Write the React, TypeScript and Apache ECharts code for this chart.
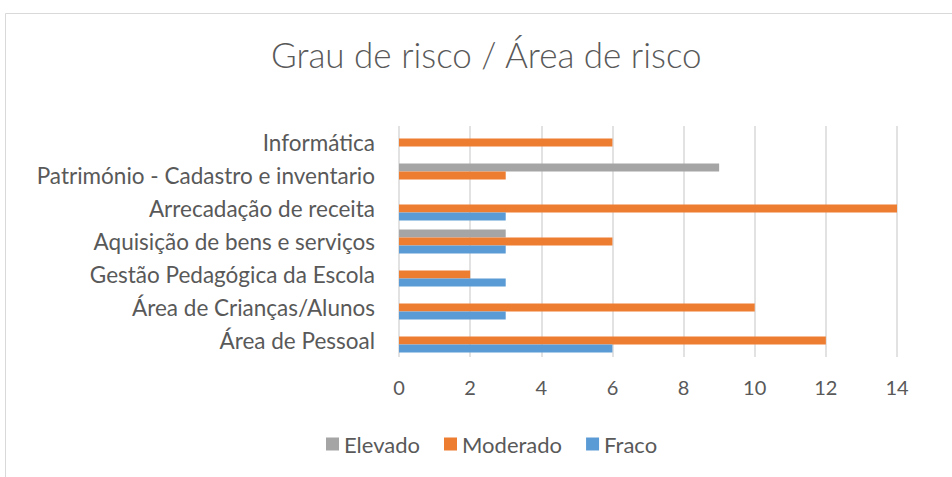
import React, { useEffect, useRef } from "react";
import * as echarts from "echarts";

const categories = [
  "Área de Pessoal",
  "Área de Crianças/Alunos",
  "Gestão Pedagógica da Escola",
  "Aquisição de bens e serviços",
  "Arrecadação de receita",
  "Património - Cadastro e inventario",
  "Informática",
];
const fraco = [6, 3, 3, 3, 3, 0, 0];
const moderado = [12, 10, 2, 6, 14, 3, 6];
const elevado = [0, 0, 0, 3, 0, 9, 0];
const legendOrder = ["Elevado", "Moderado", "Fraco"];
const titleText = "Grau de risco / Área de risco";

export default function App() {
  const ref = useRef<HTMLDivElement>(null);
  useEffect(() => {
    if (!ref.current) return;
    const chart = echarts.init(ref.current, null, { renderer: "svg" });
    const font = "Lato, sans-serif";
    const txt = "#595959";
    const common = { type: "bar", barGap: "0%", barCategoryGap: "28%" };
    chart.setOption({
      animation: false,
      backgroundColor: "#ffffff",
      title: {
        text: titleText,
        left: 266,
        top: 31,
        textStyle: { fontFamily: font, fontWeight: 300, fontSize: 35, color: txt },
      },
      graphic: [
        {
          type: "rect",
          shape: { x: 5.5, y: 13.5, width: 1000, height: 500 },
          style: { fill: "none", stroke: "#d9d9d9", lineWidth: 1 },
          silent: true,
        },
      ],
      legend: {
        data: legendOrder,
        bottom: 17,
        left: 321,
        itemWidth: 13,
        itemHeight: 13,
        itemGap: 24,
        icon: "rect",
        textStyle: { fontFamily: font, fontSize: 22, color: txt },
      },
      grid: { left: 399, right: 55, top: 126, bottom: 120 },
      xAxis: {
        type: "value",
        min: 0,
        max: 14,
        interval: 2,
        axisLine: { show: false },
        axisTick: { show: false },
        splitLine: { lineStyle: { color: "#d9d9d9", width: 1.5 } },
        axisLabel: { fontFamily: font, fontSize: 20, color: txt, margin: 20 },
      },
      yAxis: {
        type: "category",
        data: categories,
        axisLine: { show: false },
        axisTick: { show: false },
        axisLabel: { fontFamily: font, fontSize: 22.5, color: txt, margin: 24 },
      },
      series: [
        { ...common, name: "Elevado", data: elevado, itemStyle: { color: "#A5A5A5" } },
        { ...common, name: "Moderado", data: moderado, itemStyle: { color: "#ED7D31" } },
        { ...common, name: "Fraco", data: fraco, itemStyle: { color: "#5B9BD5" } },
      ],
    });
    return () => chart.dispose();
  }, []);
  return (
    <div
      ref={ref}
      style={{ position: "absolute", left: 0, top: 0, width: 952, height: 477 }}
    />
  );
}
